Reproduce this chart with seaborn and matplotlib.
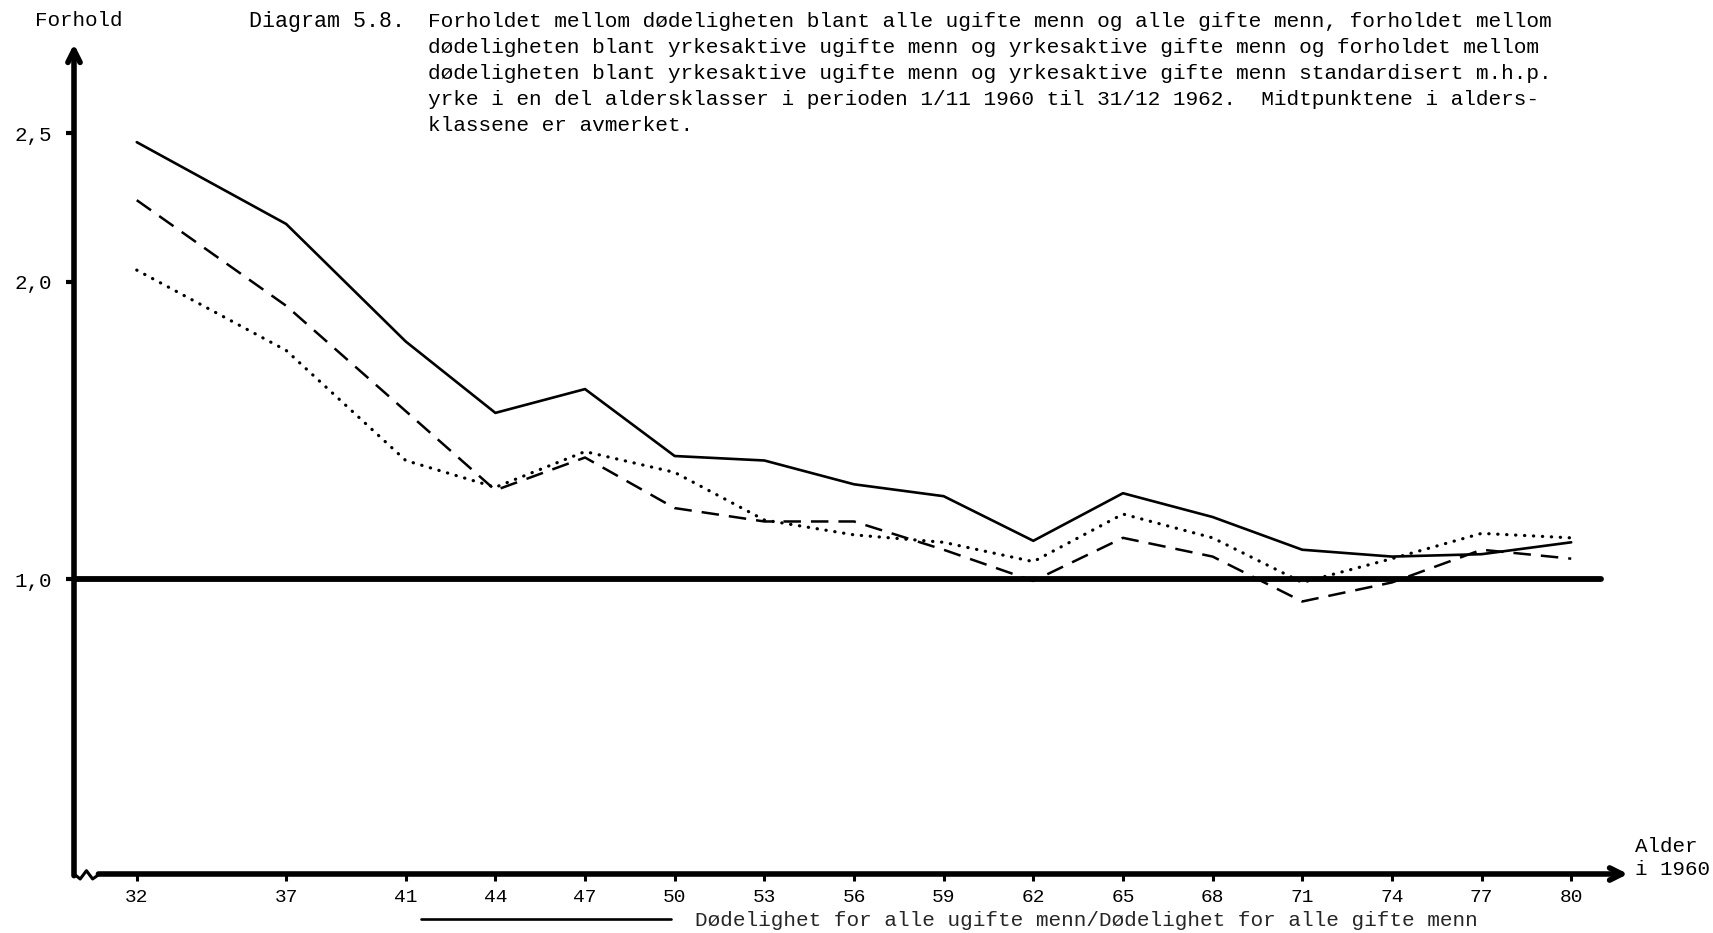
import numpy as np
import pandas as pd
import matplotlib
matplotlib.use("Agg")
import matplotlib.pyplot as plt
import seaborn as sns
from matplotlib.lines import Line2D

# ---- data ----
ages = [32, 37, 41, 44, 47, 50, 53, 56, 59, 62, 65, 68, 71, 74, 77, 80]
alle = [2.47, 2.195, 1.80, 1.56, 1.64, 1.415, 1.40, 1.32, 1.28, 1.13, 1.29, 1.21, 1.10, 1.077, 1.085, 1.125]
yrkesaktive = [2.275, 1.92, 1.566, 1.30, 1.41, 1.24, 1.195, 1.195, 1.10, 0.995, 1.14, 1.077, 0.926, 0.99, 1.10, 1.07]
standardisert = [2.04, 1.77, 1.40, 1.31, 1.43, 1.36, 1.20, 1.15, 1.125, 1.06, 1.22, 1.14, 0.99, 1.07, 1.155, 1.14]

yticks = [1.0, 2.0, 2.5]
ytick_labels = ["1,0", "2,0", "2,5"]

title_head = "Diagram 5.8."
title_body = ("Forholdet mellom dødeligheten blant alle ugifte menn og alle gifte menn, forholdet mellom\n"
              "dødeligheten blant yrkesaktive ugifte menn og yrkesaktive gifte menn og forholdet mellom\n"
              "dødeligheten blant yrkesaktive ugifte menn og yrkesaktive gifte menn standardisert m.h.p.\n"
              "yrke i en del aldersklasser i perioden 1/11 1960 til 31/12 1962.  Midtpunktene i alders-\n"
              "klassene er avmerket.")
ylabel = "Forhold"
xlabel = "Alder\ni 1960"
legend_label = "Dødelighet for alle ugifte menn/Dødelighet for alle gifte menn"

df_alle = pd.DataFrame({"alder": ages, "forhold": alle})
df_yrk = pd.DataFrame({"alder": ages, "forhold": yrkesaktive})
df_std = pd.DataFrame({"alder": ages, "forhold": standardisert})

sns.set_theme(style="white")
plt.rcParams["font.family"] = ["Liberation Mono", "DejaVu Sans Mono"]

W, H = 1713, 933
fig = plt.figure(figsize=(W / 100, H / 100), dpi=100)
fig.patch.set_facecolor("white")
ax = fig.add_axes([74 / W, (H - 874) / H, (1628 - 74) / W, (874 - 44) / H])
ax.set_facecolor("white")

ax.set_xlim(29.9, 81.9)
ax.set_ylim(0.01, 2.8)

ink = "black"
sns.lineplot(data=df_alle, x="alder", y="forhold", ax=ax, color=ink, lw=1.9,
             linestyle="-", legend=False)
l_dash = sns.lineplot(data=df_yrk, x="alder", y="forhold", ax=ax, color=ink, lw=1.8,
                      legend=False).lines[-1]
l_dash.set_dashes((7, 4))
l_dot = sns.lineplot(data=df_std, x="alder", y="forhold", ax=ax, color=ink, lw=2.3,
                     legend=False).lines[-1]
l_dot.set_dashes((0.1, 2.7))
l_dot.set_dash_capstyle("round")

# reference line at 1,0
ax.plot([29.9, 81.0], [1.0, 1.0], color=ink, lw=4.2, solid_capstyle="round", zorder=1)

# axes as arrows
for s in ax.spines.values():
    s.set_visible(False)
ax.annotate("", xy=(0, 1.0), xytext=(0, -0.002), xycoords="axes fraction",
            arrowprops=dict(arrowstyle="->", lw=4, color=ink, mutation_scale=22,
                            shrinkA=0, shrinkB=0))
ax.annotate("", xy=(1.0, 0), xytext=(0.0157, 0), xycoords="axes fraction",
            arrowprops=dict(arrowstyle="->", lw=4, color=ink, mutation_scale=22,
                            shrinkA=0, shrinkB=0))
# axis break zigzag
zx = np.array([0.0, 0.004, 0.008, 0.012, 0.0165])
zy = np.array([0.0, -0.006, 0.004, -0.006, 0.0])
ax.plot(zx, zy, transform=ax.transAxes, color=ink, lw=2.2, clip_on=False)

# ticks
ax.set_xticks(ages)
ax.set_xticklabels([str(a) for a in ages])
ax.set_yticks(yticks)
ax.set_yticklabels(ytick_labels)
ax.tick_params(axis="x", which="major", direction="out", length=5, width=2.2,
               pad=6, labelsize=14, colors=ink, bottom=True)
ax.tick_params(axis="y", which="major", direction="out", length=6, width=3,
               pad=10, labelsize=15, colors=ink, left=True)
ax.set_xlabel("")
ax.set_ylabel("")
ax.grid(False)

# texts
fig.text(79 / W, 1 - 21 / H, ylabel, ha="center", va="center", fontsize=15, color=ink)
fig.text(249 / W, 1 - 21 / H, title_head, ha="left", va="center", fontsize=15.6, color=ink)
fig.text(428 / W, 1 - 12 / H, title_body, ha="left", va="top", fontsize=15.2,
         color=ink, linespacing=1.47)
fig.text(1635 / W, 1 - 858 / H, xlabel, ha="left", va="center", fontsize=15,
         color=ink, linespacing=1.25)

# legend (only the visible entry)
handle = Line2D([], [], color=ink, lw=1.9)
leg = fig.legend([handle], [legend_label], loc="center left",
                 bbox_to_anchor=(421 / W, (H - 921) / H), frameon=False,
                 handlelength=11.9, handletextpad=1.15, borderpad=0,
                 borderaxespad=0, prop={"family": "Liberation Mono", "size": 15.1})

fig.savefig("out.png", dpi=100, facecolor="white")
